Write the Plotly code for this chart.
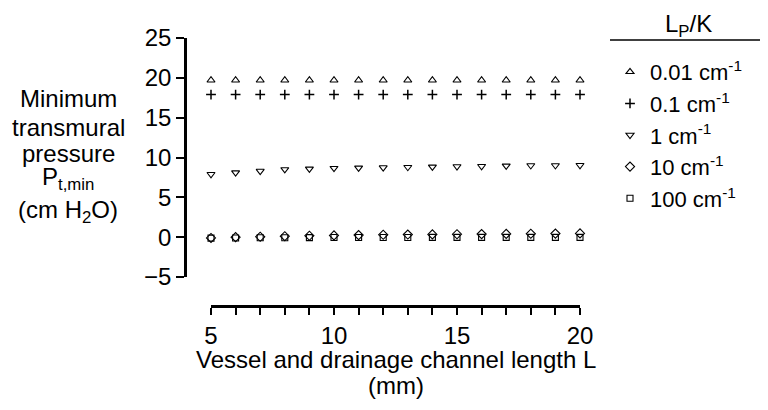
import plotly.graph_objects as go

lengths = list(range(5, 21))
lp_labels = ["0.01 cm<sup>-1</sup>", "0.1 cm<sup>-1</sup>", "1 cm<sup>-1</sup>",
             "10 cm<sup>-1</sup>", "100 cm<sup>-1</sup>"]
legend_title = "L<sub>P</sub>/K"
p_001 = [19.7] * 16
p_01 = [17.9] * 16
p_1 = [7.9, 8.1, 8.3, 8.5, 8.57, 8.66, 8.7, 8.74, 8.78, 8.82, 8.87, 8.9, 8.95, 9.0, 9.0, 9.03]
p_10 = [-0.1, 0.0, 0.05, 0.12, 0.18, 0.22, 0.26, 0.3, 0.33, 0.35, 0.37, 0.39, 0.41, 0.43, 0.45, 0.47]
p_100 = [-0.12, -0.1, -0.08, -0.07, -0.06, -0.05, -0.05, -0.04, -0.04, -0.03, -0.03, -0.03, -0.02, -0.02, -0.02, -0.02]
series = [p_001, p_01, p_1, p_10, p_100]
symbols = ["triangle-up-open", "cross-thin-open", "triangle-down-open", "diamond-open", "square-open"]
sizes = [7, 7, 7, 7, 6]
x_ticks = [5, 10, 15, 20]
y_ticks = [-5, 0, 5, 10, 15, 20, 25]
y_title_lines = ["Minimum", "transmural", "pressure", "P<sub>t,min</sub>", "(cm H<sub>2</sub>O)"]
x_title_lines = ["Vessel and drainage channel length L", "(mm)"]

FONT = "Liberation Sans, Arial, sans-serif"
FS = 24
W, H = 768, 410
L, R, T, B = 150, 168, 30, 100
OFF = 8  # page body margin
pw, ph = W - L - R, H - T - B

def px_x(x):
    return (x - OFF - L) / pw

def px_y(y):
    return (H - B - (y - OFF)) / ph

fig = go.Figure()
for name, vals, sym, sz in zip(lp_labels, series, symbols, sizes):
    fig.add_trace(go.Scatter(
        x=lengths, y=vals, mode="markers", name=name, cliponaxis=False,
        marker=dict(symbol=sym, size=sz, color="black",
                    line=dict(color="black", width=1.5 if sym.startswith("cross") else 1.1)),
    ))

fig.update_layout(
    width=W, height=H,
    margin=dict(l=L, r=R, t=T, b=B, autoexpand=False),
    paper_bgcolor="white", plot_bgcolor="white",
    font=dict(family=FONT, size=FS, color="black"),
    xaxis=dict(
        domain=[px_x(211), px_x(580)], range=[5, 20],
        anchor="free", position=px_y(306),
        showline=True, linewidth=2.5, linecolor="black",
        tickvals=x_ticks, ticks="outside", ticklen=7, tickwidth=2,
        tickcolor="black", showgrid=False, zeroline=False,
        tickfont=dict(size=FS),
        minor=dict(tick0=5, dtick=1, ticks="outside", ticklen=7, tickwidth=2,
                   tickcolor="black", showgrid=False),
    ),
    yaxis=dict(
        domain=[px_y(277), px_y(38)], range=[-5, 25],
        anchor="free", position=px_x(185),
        showline=True, linewidth=2.5, linecolor="black",
        tickvals=y_ticks, ticks="outside", ticklen=8, tickwidth=2, tickcolor="black",
        showgrid=False, zeroline=False, tickfont=dict(size=FS),
    ),
    legend=dict(
        x=px_x(610), y=px_y(51), xanchor="left", yanchor="top",
        font=dict(size=22), bgcolor="rgba(0,0,0,0)", tracegroupgap=0,
        maxheight=300,
    ),
    showlegend=True,
)

fig.add_annotation(
    xref="paper", yref="paper", x=px_x(688), y=px_y(8), xanchor="center", yanchor="top",
    text=legend_title, showarrow=False, font=dict(size=FS),
)
fig.add_shape(type="line", xref="paper", yref="paper",
              x0=px_x(610), x1=px_x(776), y0=px_y(40), y1=px_y(40),
              line=dict(color="black", width=1.5))

y_title_centers = [98, 128, 153, 178, 211]
for txt, cy in zip(y_title_lines, y_title_centers):
    fig.add_annotation(
        xref="paper", yref="paper", x=px_x(68), y=px_y(cy), xanchor="center", yanchor="middle",
        text=txt, showarrow=False, align="center", font=dict(size=FS),
    )
x_title_centers = [359, 385]
for txt, cy in zip(x_title_lines, x_title_centers):
    fig.add_annotation(
        xref="paper", yref="paper", x=px_x(396), y=px_y(cy), xanchor="center", yanchor="middle",
        text=txt, showarrow=False, align="center", font=dict(size=FS),
    )

fig.write_html("out.html")
